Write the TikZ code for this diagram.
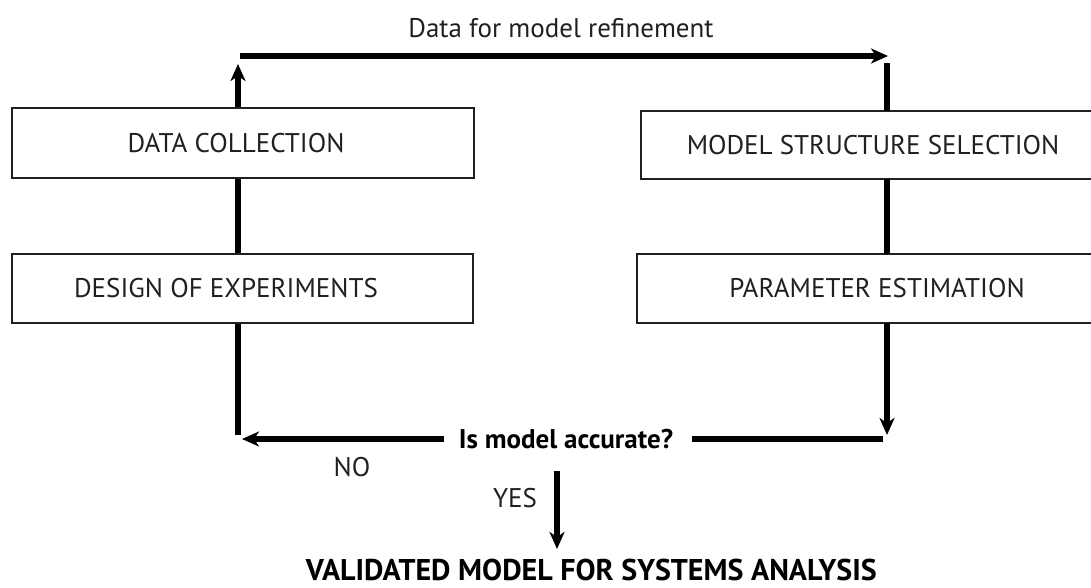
\documentclass[tikz,border=0pt]{standalone}
\usepackage{fontspec}
\setmainfont{PT Sans}
\usetikzlibrary{arrows.meta}
\definecolor{ink}{HTML}{231F20}
\begin{document}
\begin{tikzpicture}[x=1pt,y=-1pt,
  box/.style={draw=ink, line width=1.5pt, inner sep=0pt, rectangle},
  openbox/.style={inner sep=0pt, rectangle},
  boxline/.style={draw=ink, line width=1.5pt},
  lbl/.style={inner sep=0pt, text=ink, font=\fontsize{27}{31}\selectfont},
  qlbl/.style={inner sep=0pt, text=black, font=\bfseries\fontsize{27}{31}\selectfont},
  tlbl/.style={inner sep=0pt, text=black, font=\bfseries\fontsize{30}{34}\selectfont},
  conn/.style={line width=5.5pt, draw=black},
  arr/.style={conn, -{Stealth[length=17pt,width=15pt,inset=5pt]}},
]
\useasboundingbox (0,0) rectangle (1091,588);

% labels and boxes
\node[lbl] (top) at (561,28.5) {Data for model refinement};

\node[box, minimum width=462pt, minimum height=70pt] (dc) at (243,143) {};
\node[lbl] (dct) at (236,143) {DATA COLLECTION};

\node[box, minimum width=461pt, minimum height=69pt] (de) at (242.5,288.5) {};
\node[lbl] (det) at (226,288.5) {DESIGN OF EXPERIMENTS};

\node[openbox, minimum width=450pt, minimum height=68pt] (ms) at (866,145) {};
\draw[boxline] (ms.north east) -- (ms.north west) -- (ms.south west) -- (ms.south east);
\node[lbl] (mst) at (873,145) {MODEL STRUCTURE SELECTION};

\node[openbox, minimum width=454pt, minimum height=69pt] (pe) at (864,288.5) {};
\draw[boxline] (pe.north east) -- (pe.north west) -- (pe.south west) -- (pe.south east);
\node[lbl] (pet) at (877,288.5) {PARAMETER ESTIMATION};

\node[qlbl] (q) at (566,439) {Is model accurate?};
\node[lbl] (no) at (352,467) {NO};
\node[lbl] (yes) at (515,498) {YES};
\node[tlbl, anchor=east] (vm) at (877,569.5) {VALIDATED MODEL FOR SYSTEMS ANALYSIS};

% coordinates for free ends
\coordinate (lx) at (238,0);
\coordinate (rx) at (887,0);
\coordinate (upTip) at (238,64);
\coordinate (hl) at (240,56);
\coordinate (hr) at (888,56);
\coordinate (rTop) at (887,63);
\coordinate (rBot) at (887,435);
\coordinate (bR) at (883,439);
\coordinate (bL) at (242,439);
\coordinate (lBot) at (238,435);
\coordinate (yTop) at (557,471);
\coordinate (yTip) at (557,549);

% connectors
\draw[arr] (dc.north -| lx) -- (upTip);
\draw[arr] (hl) -- (hr);
\draw[conn] (rTop) -- (ms.north -| rx);
\draw[conn] (ms.south -| rx) -- (pe.north -| rx);
\draw[arr] (pe.south -| rx) -- (rBot);
\draw[conn, shorten >=19pt] (bR) -- (q.east);
\draw[arr, shorten <=15pt] (q.west) -- (bL);
\draw[conn] (lBot) -- (de.south -| lx);
\draw[conn] (de.north -| lx) -- (dc.south -| lx);
\draw[arr] (yTop) -- (yTip);
\end{tikzpicture}
\end{document}
